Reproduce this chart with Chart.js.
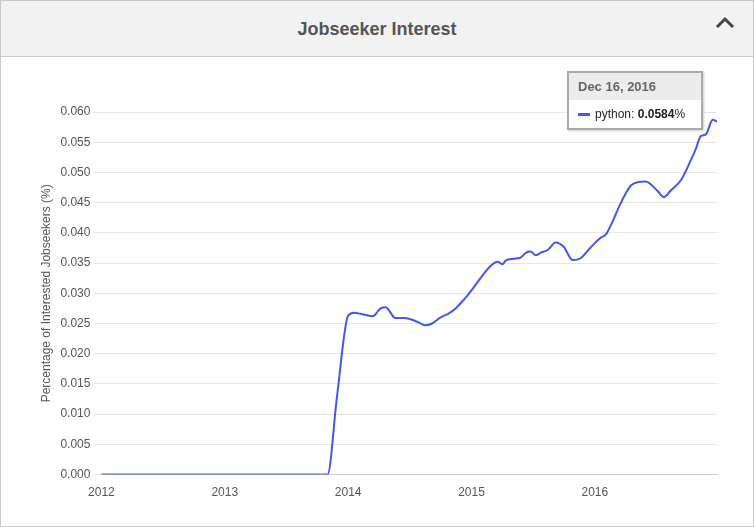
<!DOCTYPE html><html><head><script src="https://cdn.jsdelivr.net/npm/chart.js@4"></script>
<style>
body{margin:0;font-family:"Liberation Sans",Arial,sans-serif;background:#fff}
#box{position:absolute;left:0;top:0;width:752px;height:525px;border:1px solid #c8c8c8}
#hdr{height:55px;background:#f2f2f2;border-bottom:1px solid #c8c8c8;text-align:center;line-height:56px;font-size:18px;font-weight:bold;color:#555}
#caret{position:absolute;right:18px;top:14px;font-size:20px;color:#444}
#wrap{position:absolute;left:0;top:56px;width:752px;height:469px}
#tip{position:absolute;left:567px;top:71px;width:132px;background:#fff;border:2px solid #aaa;box-shadow:1px 1px 2px rgba(0,0,0,.2);font-size:12px}
#tip .t{background:#ececec;color:#666;font-weight:bold;font-size:13px;padding:6px 9px}
#tip .b{padding:7px 9px;color:#222}
#tip .sw{display:inline-block;width:12px;height:3px;background:#4256f0;vertical-align:middle;margin-right:5px}
</style></head><body>
<div id="box"><div id="hdr">Jobseeker Interest</div>
<svg id="caret" width="20" height="14" viewBox="0 0 20 14"><polyline points="2,12 10,4 18,12" fill="none" stroke="#444" stroke-width="3"/></svg>
<div id="wrap"><canvas id="c"></canvas></div></div>
<div id="tip"><div class="t">Dec 16, 2016</div><div class="b"><span class="sw"></span>python:&nbsp;<b>0.0584</b>%</div></div>
<script>
const years=[2012,2013.833,2013.91,2014.0,2014.05,2014.1,2014.198,2014.263,2014.303,2014.384,2014.45,2014.506,2014.57,2014.628,2014.68,2014.749,2014.81,2014.871,2014.94,2015.0,2015.073,2015.154,2015.212,2015.25,2015.277,2015.34,2015.398,2015.44,2015.479,2015.52,2015.56,2015.62,2015.682,2015.747,2015.82,2015.885,2015.966,2016.047,2016.088,2016.128,2016.2,2016.25,2016.29,2016.35,2016.41,2016.51,2016.56,2016.615,2016.7,2016.777,2016.82,2016.858,2016.9,2016.955,2016.99];
const python=[0,0,0.013,0.0263,0.0268,0.0266,0.0262,0.0275,0.0277,0.0259,0.0259,0.0257,0.0252,0.0247,0.0250,0.0260,0.0266,0.0275,0.0290,0.0305,0.0325,0.0345,0.0352,0.0348,0.0354,0.0357,0.0359,0.0367,0.0369,0.0363,0.0367,0.0372,0.0384,0.0377,0.0355,0.0358,0.0376,0.0392,0.0397,0.0412,0.0445,0.0465,0.0478,0.0484,0.0485,0.0469,0.0459,0.0470,0.0488,0.0520,0.0540,0.0560,0.0563,0.0587,0.0584];
const yTicks=[0,0.005,0.01,0.015,0.02,0.025,0.03,0.035,0.04,0.045,0.05,0.055,0.06];
const xTicks=[2012,2013,2014,2015,2016];
new Chart(document.getElementById('c'),{type:'line',
data:{datasets:[{label:'python',data:years.map((x,i)=>({x,y:python[i]})),borderColor:'#4256f0',borderWidth:2,pointRadius:0,cubicInterpolationMode:'monotone',fill:false}]},
options:{responsive:true,maintainAspectRatio:false,animation:false,layout:{padding:{left:34,right:36,top:55,bottom:23}},
plugins:{legend:{display:false},tooltip:{enabled:false}},
scales:{x:{type:'linear',min:2012,max:2016.99,afterBuildTicks:a=>{a.ticks=xTicks.map(v=>({value:v}))},grid:{display:false},border:{color:'#ccc'},ticks:{color:'#555',font:{size:12,family:'Liberation Sans'},callback:v=>String(v)}},
y:{min:0,max:0.06,afterBuildTicks:a=>{a.ticks=yTicks.map(v=>({value:v}))},grid:{color:'#e6e6e6'},border:{display:false},ticks:{color:'#555',font:{size:12,family:'Liberation Sans'},callback:v=>v.toFixed(3)},
title:{display:true,text:'Percentage of Interested Jobseekers (%)',color:'#555',font:{size:12,family:'Liberation Sans'}}}}}});
</script></body></html>
